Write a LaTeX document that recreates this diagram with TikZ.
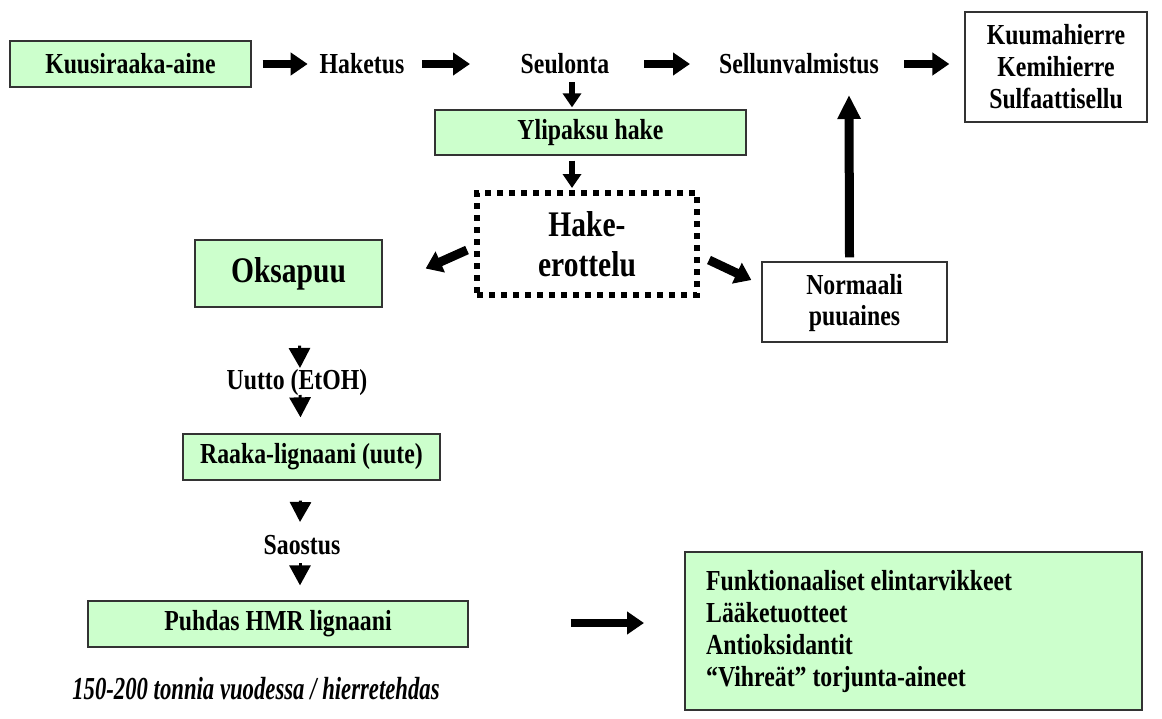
\documentclass[tikz,border=0pt]{standalone}
\usepackage{fontspec}
\setmainfont{Liberation Serif}[FakeStretch=0.82]
\newfontfamily\notefont{Liberation Serif}[FakeStretch=0.71]
\usetikzlibrary{arrows.meta,calc}
\definecolor{mint}{HTML}{CCFFCC}
\definecolor{edge}{HTML}{333333}
\begin{document}
\begin{tikzpicture}[x=1pt,y=-1pt,
  font=\bfseries\fontsize{29}{32}\selectfont,
  gbox/.style={draw=edge, line width=1.3pt, fill=mint, inner sep=0pt},
  wbox/.style={draw=edge, line width=1.3pt, fill=white, inner sep=0pt},
  lbl/.style={inner sep=0pt},
  big/.style={font=\bfseries\fontsize{36}{40}\selectfont},
  harrow/.style={line width=8pt, -{Triangle[length=17pt,width=22pt]}},
  varrow/.style={line width=6pt, -{Triangle[length=14pt,width=18pt]}},
  uparrow/.style={line width=9pt, -{Triangle[length=24pt,width=22pt]}},
  darrow/.style={line width=9pt, -{Triangle[length=16pt,width=22pt]}},
  tri/.style={line width=3pt, -{Triangle[length=20pt,width=21pt]}},
]
\useasboundingbox (0,0) rectangle (1162,718);

% top row
\node[gbox, minimum width=241pt, minimum height=46pt] (kuusi) at (130.5,64) {Kuusiraaka-aine};
\node[lbl] (haketus) at (362,64) {Haketus};
\node[lbl] (seul) at (565,64) {Seulonta};
\node[lbl] (sellu) at (799,64) {Sellunvalmistus};
\node[wbox, minimum width=182pt, minimum height=110pt, align=center] (kuuma) at (1056,67)
      {Kuumahierre\\Kemihierre\\Sulfaattisellu};

% chip separation branch
\node[gbox, minimum width=311pt, minimum height=45pt] (ylip) at (590.5,132.5) {Ylipaksu hake};
\node[draw, line width=6pt, dash pattern=on 6pt off 6pt, minimum width=220pt, minimum height=102pt,
      align=center, inner sep=0pt, big] (hake) at (587,244) {Hake-\\erottelu};
\node[gbox, minimum width=187pt, minimum height=67pt, big] (oksa) at (288.5,273.5) {Oksapuu};
\node[wbox, minimum width=185pt, minimum height=80pt, align=center,
      font=\bfseries\fontsize{29}{31}\selectfont] (norm) at (854.5,302) {\strut Normaali\\puuaines};

% lignan chain
\node[lbl] (uutto) at (297,383) {Uutto (EtOH)};
\node[gbox, minimum width=257pt, minimum height=46pt] (raaka) at (311.5,457) {Raaka-lignaani (uute)};
\node[lbl] (saos) at (302,545) {Saostus};
\node[gbox, minimum width=380pt, minimum height=46pt] (puhdas) at (278,624) {Puhdas HMR lignaani};
\node[gbox, minimum width=457pt, minimum height=158pt, line width=2pt] (prod) at (913.5,631) {};
\node[lbl, anchor=west, align=left] (prodtxt) at (706,632)
      {Funktionaaliset elintarvikkeet\\L\"a\"aketuotteet\\Antioksidantit\\``Vihre\"at'' torjunta-aineet};
\node[lbl, font=\notefont\bfseries\itshape\fontsize{32}{34}\selectfont] (note) at (256,689)
      {150-200 tonnia vuodessa / hierretehdas};

% connectors
\draw[harrow] ($(kuusi.east)+(11,0)$) -- ($(kuusi.east)+(56,0)$);
\draw[harrow] ($(haketus)+(60,0)$) -- ($(haketus)+(108,0)$);
\draw[harrow] ($(seul)+(79,0)$) -- ($(seul)+(125,0)$);
\draw[harrow] ($(kuuma.west |- sellu)+(-60,0)$) -- ($(kuuma.west |- sellu)+(-15,0)$);
\draw[varrow] ($(seul)+(7,18)$) -- ($(ylip.north)+(-18.5,-2)$);
\draw[varrow] ($(ylip.south)+(-18.5,5)$) -- ($(hake.north)+(-15,-2)$);
\draw[darrow] ($(hake.west)+(-7,6)$) -- ($(oksa.east)+(43,-5)$);
\draw[darrow] ($(hake.east)+(9,16)$) -- ($(norm.west)+(-10,-22)$);
\draw[uparrow] ($(norm.north)+(-5,-4)$) -- ($(sellu)+(50,31)$);
\draw[tri] ($(oksa.south)+(11,38)$) -- ($(uutto)+(3,-15)$);
\draw[tri] ($(uutto)+(3,12)$) -- ($(raaka.north)+(-11,-16)$);
\draw[tri] ($(raaka.south)+(-11,20)$) -- ($(saos)+(-2,-23)$);
\draw[tri] ($(saos)+(-2,18)$) -- ($(puhdas.north)+(22,-15)$);
\draw[harrow] ($(puhdas.east)+(102,-1)$) -- ($(prod.west)+(-40,-8)$);
\end{tikzpicture}
\end{document}
